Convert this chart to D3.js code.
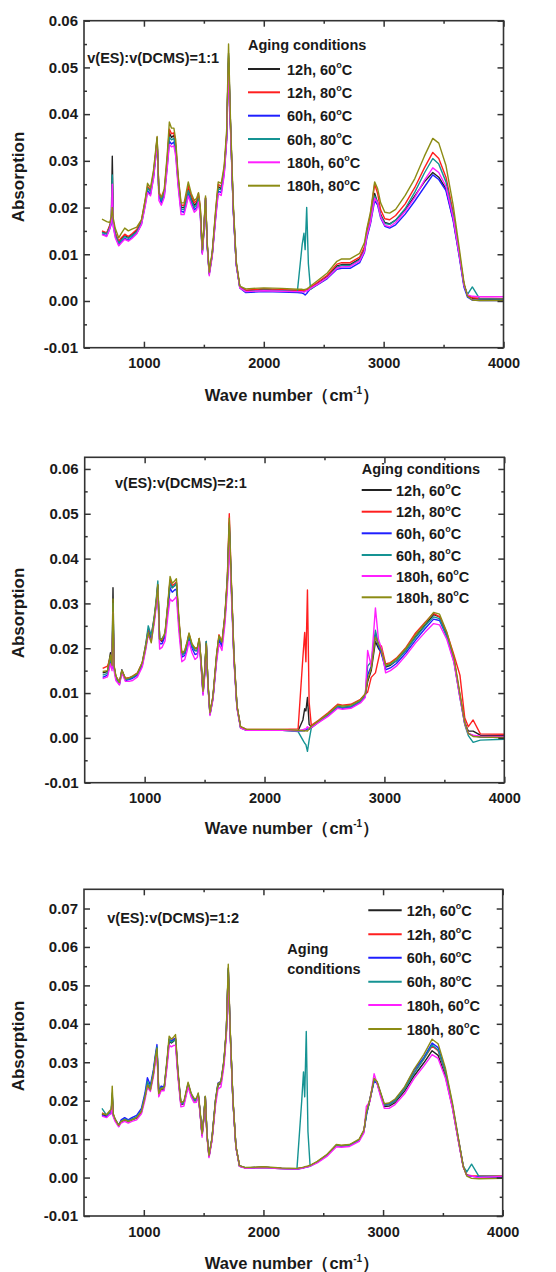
<!DOCTYPE html>
<html>
<head>
<meta charset="utf-8">
<script src="https://cdn.jsdelivr.net/npm/d3@7"></script>
<style>
  body { margin: 0; background: #fff; }
  svg { display: block; }
  text { font-family: "Liberation Sans", Arial, sans-serif; font-weight: bold; fill: #1a1a1a; }
</style>
</head>
<body>
<svg id="chart" width="556" height="1272"></svg>
<script>
// wave numbers (cm-1) shared by all spectra
const wave = [650, 690, 715, 728, 736, 745, 760, 790, 810, 840,
  870, 900, 940, 980, 1010, 1030, 1055, 1080, 1097, 1110,
  1125, 1145, 1170, 1195, 1212, 1230, 1250, 1265, 1285, 1310,
  1335, 1355, 1370, 1395, 1420, 1440, 1455, 1470, 1487, 1500,
  1514, 1528, 1545, 1570, 1600, 1620, 1645, 1670, 1690, 1706,
  1722, 1745, 1770, 1800, 1850, 2000, 2150, 2280, 2320, 2335,
  2345, 2358, 2372, 2390, 2450, 2530, 2610, 2650, 2720, 2800,
  2840, 2860, 2890, 2925, 2950, 2975, 3010, 3050, 3100, 3180,
  3260, 3340, 3410, 3460, 3520, 3580, 3630, 3670, 3700, 3740,
  3800, 4000];

const hours = ["12h", "12h", "60h", "60h", "180h", "180h"];
const temps = ["60", "80", "60", "80", "60", "80"];
const colors = ["#222222", "#ff1f1f", "#1f1fff", "#159393", "#ff1fff", "#8c8c14"];

// absorption values in units of 0.001
// v(ES):v(DCMS)=1:1
const a11_12h60 = [14.8, 14.5, 16.0, 17.5, 31.0, 17.0, 14.5, 12.5, 13.2, 14.0,
  13.6, 14.2, 15.0, 17.0, 21.0, 24.2, 23.5, 27.0, 31.0, 34.5,
  23.0, 21.5, 23.2, 30.0, 36.0, 35.0, 35.5, 33.0, 26.0, 20.0,
  20.0, 22.0, 24.0, 22.0, 20.5, 21.0, 22.5, 19.5, 10.5, 15.0,
  22.0, 12.0, 6.0, 10.0, 19.0, 24.5, 24.0, 28.0, 35.0, 53.0,
  38.0, 20.0, 8.0, 3.0, 2.2, 2.5, 2.3, 2.2, 2.2, 2.0,
  2.1, 2.3, 2.4, 2.8, 3.8, 5.2, 7.5, 7.8, 7.8, 9.0,
  11.0, 14.0, 17.0, 23.0, 21.0, 18.5, 16.8, 16.5, 17.3, 19.5,
  22.5, 25.5, 27.5, 26.5, 24.0, 17.5, 10.0, 3.5, 1.2, 0.6,
  0.4, 0.3];
const a11_12h80 = [15.0, 14.6, 16.2, 17.0, 24.0, 16.8, 14.6, 12.8, 13.5, 14.3,
  13.8, 14.4, 15.3, 17.3, 21.5, 24.5, 23.8, 27.5, 31.5, 35.0,
  23.5, 22.0, 23.6, 30.8, 36.8, 35.8, 36.0, 33.5, 26.5, 20.5,
  20.5, 22.5, 24.6, 22.5, 21.0, 21.5, 23.0, 20.0, 10.8, 15.3,
  22.2, 12.2, 6.0, 10.2, 19.5, 25.0, 24.5, 28.5, 35.5, 52.0,
  38.0, 20.2, 8.2, 3.0, 2.3, 2.6, 2.4, 2.3, 2.3, 2.1,
  2.2, 2.4, 2.5, 2.9, 4.0, 5.5, 7.9, 8.2, 8.2, 9.4,
  11.6, 15.0, 18.5, 25.0, 23.0, 19.5, 17.6, 17.4, 18.3, 20.8,
  24.3, 28.5, 31.8, 30.5, 26.5, 19.0, 10.5, 3.6, 1.1, 0.7,
  0.6, 0.5];
const a11_60h60 = [14.3, 14.0, 15.5, 16.5, 22.0, 16.0, 14.0, 12.0, 12.6, 13.4,
  13.0, 13.6, 14.5, 16.5, 20.5, 23.6, 22.8, 26.4, 30.4, 34.0,
  22.5, 21.0, 22.6, 29.0, 34.2, 33.6, 34.0, 31.8, 25.2, 19.2,
  19.0, 21.0, 23.0, 21.2, 19.5, 20.0, 21.5, 18.8, 10.2, 14.6,
  21.6, 11.8, 5.8, 9.8, 18.4, 23.5, 23.2, 27.4, 34.4, 51.0,
  37.5, 19.6, 7.8, 2.8, 1.8, 2.0, 1.9, 1.8, 1.7, 1.5,
  1.3, 1.6, 2.1, 2.6, 3.5, 4.8, 6.8, 7.0, 7.0, 8.2,
  10.4, 13.5, 16.5, 21.5, 20.5, 17.8, 16.0, 15.6, 16.3, 18.6,
  21.4, 24.4, 27.0, 26.0, 23.6, 17.2, 9.6, 3.0, 0.8, 0.2,
  0.1, 0.1];
const a11_60h80 = [14.6, 14.4, 15.8, 17.0, 27.0, 16.6, 14.2, 12.4, 13.0, 13.8,
  13.4, 14.0, 14.8, 16.8, 21.0, 24.2, 23.4, 27.0, 31.0, 34.8,
  23.0, 21.5, 23.0, 29.6, 35.0, 34.5, 34.8, 32.5, 25.8, 19.6,
  19.6, 21.6, 23.6, 21.6, 20.0, 20.6, 22.0, 19.2, 10.4, 15.0,
  22.0, 12.0, 5.8, 10.0, 18.8, 24.0, 23.8, 28.0, 35.0, 52.5,
  38.0, 20.0, 8.0, 2.9, 2.0, 2.3, 2.2, 2.0, 12.0, 14.5,
  11.0, 20.0, 8.0, 2.5, 3.6, 5.0, 7.2, 7.6, 7.6, 8.8,
  10.8, 14.0, 17.0, 22.5, 21.0, 18.3, 16.6, 16.4, 17.3, 19.8,
  23.3, 27.4, 30.5, 29.3, 25.5, 18.3, 10.2, 3.5, 1.4, 3.0,
  0.5, 0.4];
const a11_180h60 = [14.2, 13.8, 15.4, 16.8, 25.0, 15.8, 13.6, 11.8, 12.4, 13.2,
  12.8, 13.4, 14.4, 16.4, 20.2, 23.2, 22.5, 26.2, 30.4, 34.2,
  21.5, 20.5, 22.2, 28.6, 33.5, 33.0, 33.2, 31.0, 24.6, 18.5,
  18.5, 20.6, 22.5, 20.6, 19.0, 19.5, 21.2, 18.4, 10.0, 14.6,
  21.8, 11.6, 5.4, 9.6, 18.0, 23.0, 22.6, 27.0, 34.2, 50.0,
  37.0, 19.6, 7.8, 2.8, 2.0, 2.2, 2.1, 2.0, 2.0, 1.9,
  2.0, 2.2, 2.3, 2.7, 3.6, 5.0, 7.0, 7.3, 7.4, 8.6,
  10.6, 14.0, 16.8, 22.0, 21.0, 18.0, 16.2, 15.9, 16.8, 19.2,
  22.2, 25.8, 28.5, 27.5, 24.5, 17.8, 10.0, 3.4, 1.3, 1.0,
  0.9, 0.9];
const a11_180h80 = [17.5, 17.0, 16.8, 18.0, 20.0, 17.5, 15.6, 13.5, 14.4, 15.6,
  15.0, 15.4, 15.8, 17.4, 21.6, 25.2, 24.2, 28.0, 32.0, 35.2,
  23.0, 22.2, 24.0, 31.5, 38.3, 37.0, 37.0, 34.5, 27.0, 21.0,
  21.0, 23.5, 25.5, 23.0, 21.5, 22.0, 23.2, 20.2, 11.0, 15.5,
  22.5, 12.5, 6.2, 10.5, 20.0, 25.5, 25.2, 29.0, 36.5, 55.0,
  39.0, 21.0, 8.5, 3.2, 2.6, 2.8, 2.7, 2.5, 2.5, 2.4,
  2.5, 2.6, 2.8, 3.2, 4.4, 6.0, 8.5, 9.0, 9.0, 10.2,
  12.5, 15.5, 19.0, 25.5, 24.0, 21.0, 19.0, 18.8, 19.6, 22.6,
  26.2, 31.0, 34.8, 33.8, 29.0, 20.5, 11.5, 4.0, 1.0, 0.2,
  0.1, 0.1];

// v(ES):v(DCMS)=2:1
const a21_12h60 = [14.5, 14.8, 19.0, 16.0, 33.5, 16.0, 13.5, 12.2, 15.2, 13.0,
  13.2, 13.5, 14.2, 16.5, 20.5, 24.0, 22.5, 26.5, 30.0, 34.0,
  22.0, 21.5, 23.0, 29.5, 35.0, 33.5, 34.0, 34.5, 26.0, 18.5,
  19.0, 21.0, 23.0, 20.5, 19.5, 19.5, 22.0, 17.0, 10.0, 14.2,
  21.5, 12.0, 5.3, 9.0, 18.0, 22.5, 21.0, 27.0, 35.0, 48.0,
  35.0, 18.0, 7.0, 2.4, 1.8, 1.8, 1.8, 1.6, 4.0, 6.5,
  6.0, 9.0, 3.0, 2.4, 3.6, 5.2, 7.0, 6.8, 7.0, 8.2,
  9.5, 12.5, 15.0, 21.5, 20.0, 19.0, 15.8, 16.2, 17.2, 19.6,
  22.6, 25.2, 27.5, 27.0, 23.0, 17.5, 9.5, 3.5, 1.5, 1.5,
  0.6, 0.5];
const a21_12h80 = [15.5, 16.0, 18.0, 16.5, 27.0, 15.8, 13.8, 12.4, 15.0, 13.3,
  13.4, 13.8, 14.5, 16.8, 21.0, 24.2, 22.8, 26.8, 30.4, 34.2,
  21.8, 21.8, 23.2, 30.0, 35.2, 34.0, 34.4, 34.8, 26.4, 18.8,
  19.4, 21.4, 23.2, 20.8, 20.0, 19.8, 22.2, 17.4, 10.2, 14.4,
  21.2, 12.2, 5.5, 9.2, 18.4, 23.0, 21.4, 27.5, 36.0, 50.0,
  36.0, 18.6, 7.2, 2.5, 1.9, 1.9, 1.9, 2.0, 18.0, 23.5,
  17.0, 33.0, 8.0, 2.8, 3.9, 5.6, 7.5, 7.3, 7.5, 8.6,
  9.8, 10.2, 13.5, 14.5, 17.5, 20.5, 16.5, 16.8, 17.8, 20.2,
  23.4, 25.8, 27.8, 27.0, 23.5, 18.5, 14.0, 4.5, 2.5, 4.0,
  0.9, 0.8];
const a21_60h60 = [13.5, 14.0, 17.0, 15.5, 28.0, 15.5, 13.2, 12.0, 14.8, 12.8,
  13.0, 13.3, 14.0, 16.2, 20.2, 23.6, 22.0, 26.2, 30.0, 33.5,
  21.0, 21.0, 22.6, 29.0, 33.5, 32.5, 33.0, 33.2, 25.4, 18.0,
  18.4, 20.5, 22.4, 20.0, 18.6, 18.8, 21.4, 16.6, 9.8, 13.8,
  20.8, 11.8, 5.2, 8.8, 17.5, 21.8, 20.4, 26.6, 34.6, 46.5,
  34.5, 17.8, 6.8, 2.3, 1.7, 1.7, 1.7, 1.5, 1.6, 1.7,
  1.8, 2.0, 1.9, 2.3, 3.5, 5.0, 6.8, 6.6, 6.8, 8.0,
  9.2, 14.0, 16.0, 23.0, 20.5, 18.8, 15.2, 15.6, 16.6, 19.0,
  21.8, 24.4, 26.5, 26.2, 22.6, 17.2, 9.2, 3.2, 1.0, 0.5,
  0.2, 0.1];
const a21_60h80 = [14.0, 14.4, 18.0, 15.8, 30.0, 15.8, 13.5, 12.0, 15.0, 13.0,
  13.2, 13.5, 14.3, 16.6, 21.0, 25.0, 22.8, 27.0, 31.0, 35.0,
  22.0, 22.2, 23.0, 30.0, 34.5, 33.5, 34.0, 34.5, 26.0, 18.5,
  19.0, 21.0, 22.8, 20.5, 19.5, 19.4, 22.0, 17.2, 10.0, 14.5,
  21.5, 12.0, 5.4, 9.0, 18.0, 22.5, 21.2, 27.0, 35.0, 47.5,
  35.0, 18.0, 7.0, 2.3, 1.7, 1.7, 1.7, 1.4, -0.5, -1.2,
  -1.5, -3.0, -0.5, 2.2, 3.6, 5.2, 7.0, 6.8, 7.0, 8.2,
  9.6, 16.0, 17.0, 24.0, 21.0, 19.5, 16.0, 16.4, 17.2, 19.6,
  22.4, 25.0, 27.0, 26.6, 22.5, 17.0, 9.0, 3.0, 0.5, -1.0,
  -0.5, -0.3];
const a21_180h60 = [13.2, 13.6, 16.5, 15.0, 28.0, 15.0, 12.8, 11.8, 14.5, 12.6,
  12.6, 12.8, 13.6, 15.8, 19.8, 23.0, 21.5, 25.5, 29.5, 33.0,
  19.8, 20.2, 21.6, 27.5, 31.0, 30.5, 31.0, 31.5, 24.0, 17.0,
  17.5, 19.5, 21.5, 19.0, 17.5, 18.0, 21.0, 16.2, 9.5, 13.5,
  20.5, 11.5, 5.0, 8.6, 17.0, 21.0, 19.5, 25.5, 33.0, 44.0,
  33.0, 17.0, 6.6, 2.2, 1.7, 1.7, 1.7, 1.6, 1.8, 2.0,
  2.0, 2.5, 2.2, 2.3, 3.4, 4.8, 6.6, 6.4, 6.6, 7.8,
  9.0, 19.5, 16.0, 29.0, 22.0, 20.0, 14.5, 15.0, 16.0, 18.4,
  21.2, 23.6, 25.5, 25.2, 22.0, 16.8, 9.0, 3.2, 1.0, 0.6,
  0.4, 0.3];
const a21_180h80 = [14.8, 15.0, 18.5, 16.2, 31.0, 16.2, 13.8, 12.4, 15.0, 13.2,
  13.4, 13.8, 14.4, 16.8, 20.5, 23.5, 21.2, 26.5, 30.5, 34.2,
  22.0, 22.0, 23.5, 30.5, 36.0, 34.5, 35.0, 35.5, 27.0, 19.0,
  19.5, 21.5, 23.4, 21.0, 20.0, 20.2, 22.2, 17.6, 10.4, 14.6,
  21.0, 12.4, 5.6, 9.4, 18.6, 22.8, 21.4, 27.4, 35.5, 49.0,
  35.5, 18.4, 7.2, 2.5, 1.9, 1.9, 1.9, 1.7, 1.6, 1.5,
  1.6, 1.5, 2.0, 2.6, 3.8, 5.4, 7.3, 7.1, 7.3, 8.5,
  9.8, 13.0, 15.5, 22.5, 21.0, 19.5, 16.2, 16.6, 17.6, 20.0,
  23.0, 25.6, 28.0, 27.6, 23.6, 18.0, 9.8, 3.4, 1.0, 0.3,
  0.2, 0.1];

// v(ES):v(DCMS)=1:2
const a12_12h60 = [16.5, 16.0, 16.8, 17.0, 21.0, 16.2, 15.0, 13.4, 14.5, 15.0,
  14.6, 15.0, 15.5, 17.0, 21.0, 24.0, 23.0, 27.0, 31.0, 33.5,
  21.5, 23.0, 23.0, 30.0, 35.5, 35.0, 35.5, 36.0, 27.0, 19.0,
  19.2, 22.0, 24.2, 21.5, 20.0, 20.0, 21.5, 17.0, 11.0, 15.0,
  21.0, 11.0, 5.5, 10.0, 20.0, 24.0, 24.5, 30.0, 38.0, 54.0,
  38.0, 20.0, 8.0, 3.0, 2.5, 2.7, 2.4, 2.3, 2.5, 2.6,
  2.7, 2.8, 2.9, 3.1, 4.0, 5.8, 8.4, 8.2, 8.4, 9.7,
  12.0, 16.5, 20.0, 25.5, 24.5, 22.0, 18.5, 18.6, 19.5, 22.5,
  26.5, 29.8, 33.0, 31.8, 26.5, 18.2, 9.5, 2.8, 0.6, 0.3,
  0.2, 0.2];
const a12_12h80 = [16.8, 16.2, 17.0, 17.2, 20.5, 16.4, 15.2, 13.6, 14.7, 15.2,
  14.8, 15.2, 15.6, 17.2, 21.2, 24.2, 23.2, 27.2, 31.2, 33.8,
  21.8, 23.2, 23.2, 30.2, 36.0, 35.4, 36.0, 36.4, 27.4, 19.2,
  19.4, 22.2, 24.4, 21.6, 20.2, 20.2, 21.6, 17.2, 11.0, 15.0,
  21.0, 11.0, 5.5, 10.0, 20.0, 24.2, 24.6, 30.2, 38.2, 54.5,
  38.2, 20.2, 8.1, 3.0, 2.5, 2.7, 2.4, 2.3, 2.5, 2.6,
  2.7, 2.8, 2.9, 3.1, 4.1, 5.9, 8.5, 8.3, 8.5, 9.8,
  12.0, 16.8, 20.2, 25.8, 24.8, 22.2, 18.8, 18.9, 19.9, 23.0,
  27.3, 30.8, 34.2, 33.0, 27.4, 18.6, 9.8, 2.9, 0.7, 0.5,
  0.4, 0.4];
const a12_60h60 = [16.2, 15.8, 16.6, 16.8, 21.5, 16.0, 15.0, 13.6, 15.0, 15.6,
  15.0, 15.6, 16.2, 18.0, 22.0, 26.0, 24.0, 28.0, 32.0, 34.6,
  22.5, 23.8, 23.5, 30.5, 36.0, 35.5, 36.0, 36.2, 27.4, 19.4,
  19.5, 22.2, 24.5, 21.8, 20.4, 20.4, 21.8, 17.2, 11.2, 15.2,
  21.0, 11.2, 5.6, 10.2, 20.4, 24.6, 25.0, 30.4, 38.2, 54.0,
  38.0, 20.0, 8.0, 3.0, 2.5, 2.7, 2.4, 2.2, 2.4, 2.5,
  2.6, 2.7, 2.8, 3.0, 4.0, 5.8, 8.4, 8.2, 8.4, 9.7,
  12.2, 16.0, 20.5, 25.0, 24.6, 22.4, 19.0, 19.2, 20.2, 23.4,
  28.0, 31.2, 35.0, 33.8, 28.0, 19.0, 10.0, 3.0, 0.6, 0.3,
  0.2, 0.1];
const a12_60h80 = [18.0, 16.2, 16.8, 17.0, 22.0, 16.2, 15.2, 13.6, 14.6, 15.2,
  14.8, 15.2, 15.8, 17.4, 21.4, 25.0, 23.4, 27.4, 31.5, 34.0,
  22.0, 23.4, 23.2, 30.2, 36.0, 35.2, 35.6, 36.0, 27.0, 19.2,
  19.4, 22.0, 24.2, 21.6, 20.2, 20.2, 21.6, 17.2, 11.0, 15.0,
  21.0, 11.2, 5.5, 10.0, 20.0, 24.2, 24.8, 30.2, 38.0, 54.5,
  38.0, 20.0, 8.0, 3.0, 2.5, 2.7, 2.3, 2.2, 20.0, 27.5,
  21.0, 38.0, 12.0, 3.0, 4.0, 5.8, 8.4, 8.2, 8.4, 9.7,
  12.0, 16.5, 20.2, 25.5, 24.8, 22.2, 18.8, 18.9, 19.9, 23.0,
  27.2, 30.8, 34.5, 33.2, 27.6, 18.6, 9.8, 3.0, 1.5, 3.5,
  0.4, 0.3];
const a12_180h60 = [16.0, 15.6, 16.4, 16.6, 20.0, 15.8, 14.6, 13.2, 14.2, 14.6,
  14.2, 14.6, 15.0, 16.6, 20.2, 23.5, 22.4, 26.2, 30.0, 32.0,
  21.0, 22.6, 22.6, 29.0, 34.5, 34.0, 34.4, 34.4, 26.2, 18.4,
  18.6, 21.4, 23.6, 21.0, 19.5, 19.6, 21.2, 16.6, 10.5, 14.6,
  20.6, 10.6, 5.2, 9.6, 19.0, 23.0, 23.6, 29.0, 36.8, 52.0,
  37.0, 19.6, 7.8, 2.9, 2.4, 2.6, 2.3, 2.2, 2.4, 2.5,
  2.6, 2.7, 2.8, 3.0, 3.8, 5.5, 8.0, 7.9, 8.1, 9.4,
  11.6, 18.5, 19.8, 27.0, 24.5, 21.5, 18.0, 18.0, 19.0, 21.8,
  25.8, 29.0, 32.0, 31.0, 26.0, 18.0, 9.4, 2.8, 0.5, 0.4,
  0.0, 0.3];
const a12_180h80 = [16.6, 16.4, 17.4, 17.8, 23.8, 16.6, 15.2, 13.6, 14.6, 15.0,
  14.6, 15.0, 15.6, 17.2, 21.0, 24.0, 22.8, 27.0, 31.2, 33.6,
  21.8, 23.2, 23.4, 31.0, 36.8, 36.0, 36.6, 37.2, 28.0, 19.6,
  19.8, 22.6, 24.8, 22.0, 20.6, 20.6, 22.0, 17.6, 11.4, 15.4,
  21.2, 11.4, 5.8, 10.4, 20.4, 24.4, 25.0, 30.6, 38.6, 55.5,
  38.6, 20.4, 8.2, 3.1, 2.6, 2.8, 2.5, 2.4, 2.6, 2.7,
  2.8, 2.9, 3.0, 3.2, 4.2, 6.0, 8.6, 8.4, 8.6, 10.0,
  12.4, 16.8, 20.4, 25.8, 25.0, 22.6, 19.2, 19.4, 20.4, 23.6,
  28.2, 32.0, 36.0, 34.8, 28.6, 19.4, 10.2, 3.0, 0.4, -0.2,
  -0.3, -0.2];

const xMajor = [1000, 2000, 3000, 4000];
const xMinor = [1500, 2500, 3500];

const panels = [
  {
    ratio: "v(ES):v(DCMS)=1:1",
    spectra: [a11_12h60, a11_12h80, a11_60h60, a11_60h80, a11_180h60, a11_180h80],
    yMax: 60, yTop: 60,
    left: 84, right: 503.5, top: 20.7, bottom: 347.7,
    ratioAt: [87.3, 62.5],
    title: [["Aging conditions", 248, 50]],
    rows: [69, 92.3, 115.7, 139, 162.3, 185.7],
    lineX: [248, 280], labelX: 287,
    xTitleY: 401, yTitleY: 177
  },
  {
    ratio: "v(ES):v(DCMS)=2:1",
    spectra: [a21_12h60, a21_12h80, a21_60h60, a21_60h80, a21_180h60, a21_180h80],
    yMax: 62.6, yTop: 60,
    left: 84.7, right: 504.3, top: 457.3, bottom: 782.7,
    ratioAt: [115, 487.5],
    title: [["Aging conditions", 361.7, 474]],
    rows: [490, 511.7, 533.3, 555, 576, 597.3],
    lineX: [361.7, 391.7], labelX: 396,
    xTitleY: 834, yTitleY: 613
  },
  {
    ratio: "v(ES):v(DCMS)=1:2",
    spectra: [a12_12h60, a12_12h80, a12_60h60, a12_60h80, a12_180h60, a12_180h80],
    yMax: 75, yTop: 70,
    left: 84, right: 502.7, top: 889.3, bottom: 1216,
    ratioAt: [107.3, 923],
    title: [["Aging", 287.3, 954], ["conditions", 287.3, 973.5]],
    rows: [910.3, 934.3, 957.7, 981.7, 1005, 1029],
    lineX: [368.3, 401.7], labelX: 406.7,
    xTitleY: 1269, yTitleY: 1046
  }
];

const svg = d3.select("#chart");
const fontFam = '"Liberation Sans", Arial, sans-serif';

function styleAxis(g, size) {
  g.attr("font-size", size).attr("font-family", fontFam).attr("font-weight", "bold").attr("color", "#1a1a1a");
  g.select(".domain").remove();
  g.selectAll(".tick line").attr("stroke", "#333").attr("stroke-width", 1.5);
}

panels.forEach((p, pi) => {
  const x = d3.scaleLinear().domain([500, 4000]).range([p.left, p.right]);
  const y = d3.scaleLinear().domain([-10, p.yMax]).range([p.bottom, p.top]);
  const yMajor = d3.range(-10, p.yTop + 1, 10);
  const yMinor = d3.range(-5, p.yMax, 10);

  svg.append("clipPath").attr("id", "clip" + pi)
    .append("rect")
      .attr("x", p.left).attr("y", p.top)
      .attr("width", p.right - p.left).attr("height", p.bottom - p.top);

  const line = d3.line()
    .x((d, i) => x(wave[i]))
    .y(d => y(d));

  svg.append("g")
    .attr("clip-path", `url(#clip${pi})`)
    .selectAll("path")
    .data(p.spectra)
    .join("path")
      .attr("d", line)
      .attr("fill", "none")
      .attr("stroke", (d, i) => colors[i])
      .attr("stroke-width", 1.4)
      .attr("stroke-linejoin", "round");

  // axes, ticks pointing inward on all four sides
  svg.append("g").attr("transform", `translate(${p.left},0)`)
    .call(d3.axisLeft(y).tickValues(yMajor).tickSize(-6).tickPadding(6).tickFormat(d => (d / 1000).toFixed(2)))
    .call(g => styleAxis(g, 15));
  svg.append("g").attr("transform", `translate(${p.left},0)`)
    .call(d3.axisLeft(y).tickValues(yMinor).tickSize(-3).tickFormat(""))
    .call(g => styleAxis(g, 10));
  svg.append("g").attr("transform", `translate(${p.right},0)`)
    .call(d3.axisRight(y).tickValues(yMajor).tickSize(-6).tickFormat(""))
    .call(g => styleAxis(g, 10));
  svg.append("g").attr("transform", `translate(${p.right},0)`)
    .call(d3.axisRight(y).tickValues(yMinor).tickSize(-3).tickFormat(""))
    .call(g => styleAxis(g, 10));
  svg.append("g").attr("transform", `translate(0,${p.bottom})`)
    .call(d3.axisBottom(x).tickValues(xMajor).tickSize(-6).tickPadding(10.5).tickFormat(d3.format("d")))
    .call(g => styleAxis(g, 14.5));
  svg.append("g").attr("transform", `translate(0,${p.bottom})`)
    .call(d3.axisBottom(x).tickValues(xMinor).tickSize(-3).tickFormat(""))
    .call(g => styleAxis(g, 10));
  svg.append("g").attr("transform", `translate(0,${p.top})`)
    .call(d3.axisTop(x).tickValues(xMajor).tickSize(-6).tickFormat(""))
    .call(g => styleAxis(g, 10));
  svg.append("g").attr("transform", `translate(0,${p.top})`)
    .call(d3.axisTop(x).tickValues(xMinor).tickSize(-3).tickFormat(""))
    .call(g => styleAxis(g, 10));

  svg.append("rect")
    .attr("x", p.left).attr("y", p.top)
    .attr("width", p.right - p.left).attr("height", p.bottom - p.top)
    .attr("fill", "none").attr("stroke", "#333").attr("stroke-width", 1.6);

  // axis titles
  svg.append("text")
    .attr("transform", `translate(18,${p.yTitleY}) rotate(-90)`)
    .attr("text-anchor", "middle").attr("dy", "0.35em")
    .attr("font-size", 17)
    .text("Absorption");
  const xt = svg.append("text")
    .attr("x", 292).attr("y", p.xTitleY)
    .attr("text-anchor", "middle")
    .attr("font-size", 16.5);
  xt.append("tspan").text("Wave number\uFF08cm");
  xt.append("tspan").attr("font-size", 10).attr("dy", -7).text("-1");
  xt.append("tspan").attr("dy", 7).text("\uFF09");

  // ratio annotation
  svg.append("text")
    .attr("x", p.ratioAt[0]).attr("y", p.ratioAt[1])
    .attr("font-size", 14.5)
    .text(p.ratio);

  // legend
  p.title.forEach(([t, tx, ty]) => {
    svg.append("text").attr("x", tx).attr("y", ty).attr("font-size", 14.5).text(t);
  });
  const leg = svg.append("g");
  p.rows.forEach((ry, i) => {
    leg.append("line")
      .attr("x1", p.lineX[0]).attr("x2", p.lineX[1])
      .attr("y1", ry).attr("y2", ry)
      .attr("stroke", colors[i]).attr("stroke-width", 2);
    const t = leg.append("text")
      .attr("x", p.labelX).attr("y", ry + 5.5)
      .attr("font-size", 14.5);
    t.append("tspan").text(`${hours[i]}, ${temps[i]}`);
    t.append("tspan").attr("font-size", 9).attr("dy", -6.5).text("o");
    t.append("tspan").attr("dy", 6.5).text("C");
  });
});
</script>
</body>
</html>
